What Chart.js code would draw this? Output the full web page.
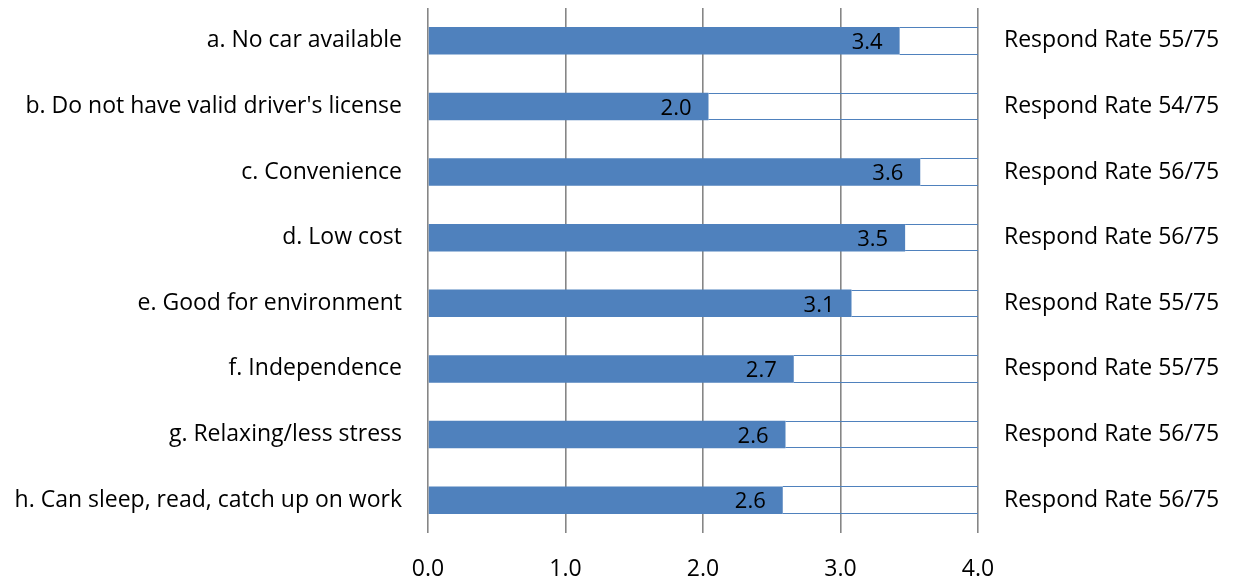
<!DOCTYPE html>
<html>
<head>
<meta charset="utf-8">
<script src="https://cdn.jsdelivr.net/npm/chart.js@4"></script>
<style>
  html, body { margin: 0; padding: 0; background: #fff; }
  #wrap { width: 1237px; height: 582px; }
</style>
</head>
<body>
<div id="wrap"><canvas id="chart" width="1237" height="582"></canvas></div>
<script>
// reasons for riding, mean score (0-4 scale)
const categories = [
  "a. No car available",
  "b. Do not have valid driver's license",
  "c. Convenience",
  "d. Low cost",
  "e. Good for environment",
  "f. Independence",
  "g. Relaxing/less stress",
  "h. Can sleep, read, catch up on work"
];
const scores = [3.43, 2.04, 3.58, 3.47, 3.08, 2.66, 2.60, 2.58];
const respondRates = [
  "Respond Rate 55/75",
  "Respond Rate 54/75",
  "Respond Rate 56/75",
  "Respond Rate 56/75",
  "Respond Rate 55/75",
  "Respond Rate 55/75",
  "Respond Rate 56/75",
  "Respond Rate 56/75"
];
const xTicks = [0, 1, 2, 3, 4];
const maxScore = 4;

const blue = "#4F81BD";
const fontFamily = "'Open Sans', 'Liberation Sans', sans-serif";

// rest of the bar up to 4.0
const remainder = scores.map((v) => maxScore - v);

// value label at the inner end of the blue bar
const valueLabels = {
  id: "valueLabels",
  afterDatasetsDraw(chart) {
    const ctx = chart.ctx;
    const meta = chart.getDatasetMeta(0);
    ctx.save();
    ctx.font = "22px " + fontFamily;
    ctx.fillStyle = "#000";
    ctx.textAlign = "right";
    ctx.textBaseline = "middle";
    meta.data.forEach((bar, i) => {
      ctx.fillText(scores[i].toFixed(1), bar.x - 17, bar.y + 2);
    });
    ctx.restore();
  }
};

// thin top/bottom outline for the empty part of the bar
const outline = {
  id: "outline",
  afterDatasetsDraw(chart) {
    const ctx = chart.ctx;
    const meta = chart.getDatasetMeta(1);
    ctx.save();
    ctx.strokeStyle = blue;
    ctx.lineWidth = 1;
    meta.data.forEach((bar) => {
      const top = Math.round(bar.y - bar.height / 2) + 0.5;
      const bottom = Math.round(bar.y + bar.height / 2) - 0.5;
      ctx.beginPath();
      ctx.moveTo(bar.base, top);
      ctx.lineTo(bar.x, top);
      ctx.moveTo(bar.base, bottom);
      ctx.lineTo(bar.x, bottom);
      ctx.stroke();
    });
    ctx.restore();
  }
};

// no extra room above/below the category axes
const fitSide = (w) => (s) => {
  s.width = w;
  s.paddingTop = 0;
  s.paddingBottom = 0;
};

new Chart(document.getElementById("chart"), {
  type: "bar",
  data: {
    labels: categories,
    datasets: [
      {
        data: scores,
        backgroundColor: blue,
        borderWidth: 0,
        barPercentage: 0.42,
        categoryPercentage: 1
      },
      {
        data: remainder,
        backgroundColor: "rgba(0,0,0,0)",
        borderWidth: 0,
        barPercentage: 0.42,
        categoryPercentage: 1
      }
    ]
  },
  options: {
    indexAxis: "y",
    responsive: false,
    animation: false,
    layout: { padding: { top: 8, left: 0, right: 0, bottom: 0 } },
    plugins: {
      legend: { display: false },
      tooltip: { enabled: false }
    },
    scales: {
      x: {
        stacked: true,
        min: 0,
        max: maxScore,
        afterBuildTicks: (s) => { s.ticks = xTicks.map((v) => ({ value: v })); },
        afterFit: (s) => { s.height = 49; s.paddingLeft = 0; s.paddingRight = 0; },
        grid: { color: "#868686", lineWidth: 1.6, drawTicks: false },
        border: { display: false },
        ticks: {
          padding: 23,
          color: "#000",
          font: { family: fontFamily, size: 23 },
          callback: (v) => Number(v).toFixed(1)
        }
      },
      y: {
        stacked: true,
        afterFit: fitSide(428),
        grid: { display: false, drawTicks: false },
        border: { display: false },
        ticks: {
          padding: 26,
          color: "#000",
          font: { family: fontFamily, size: 23 }
        }
      },
      y2: {
        type: "category",
        labels: respondRates,
        position: "right",
        offset: true,
        afterFit: fitSide(1237 - 978),
        grid: { display: false, drawTicks: false },
        border: { display: false },
        ticks: {
          padding: 26,
          color: "#000",
          font: { family: fontFamily, size: 23 }
        }
      }
    }
  },
  plugins: [outline, valueLabels]
});
</script>
</body>
</html>
